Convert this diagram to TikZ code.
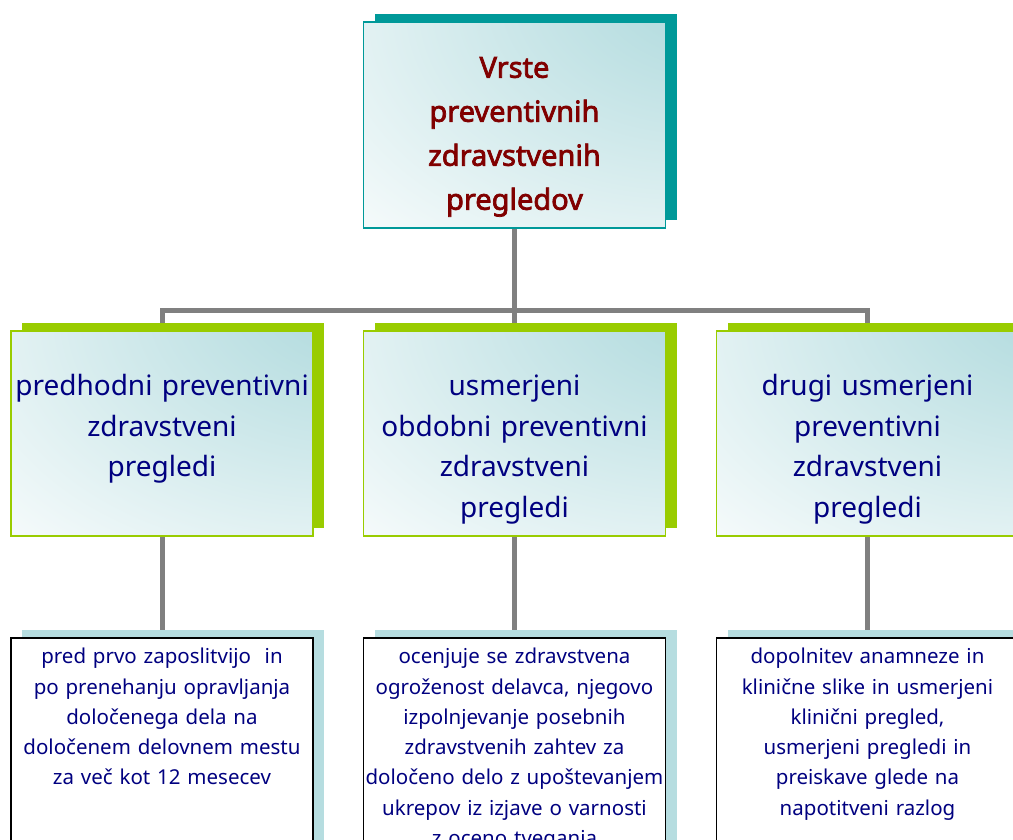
\documentclass[tikz,border=0pt]{standalone}
\usepackage{fontspec}
\setmainfont{Noto Sans}[AutoFakeBold=2.5]
\usetikzlibrary{shadows,backgrounds}

\definecolor{tealshadow}{HTML}{009999}
\definecolor{limegreen}{HTML}{99CC00}
\definecolor{paleteal}{HTML}{B6DDE0}
\definecolor{darkred}{HTML}{800000}
\definecolor{navyblue}{HTML}{000080}
\definecolor{linkgray}{HTML}{808080}

\pgfdeclareradialshading{cornerglow}{\pgfpoint{40bp}{40bp}}%
  {color(0bp)=(paleteal);color(15bp)=(paleteal);color(75bp)=(white);color(150bp)=(white)}

\begin{document}
\begin{tikzpicture}
[x=1pt,y=-1pt,
 box/.style={rectangle,anchor=north,minimum width=302pt,text width=302pt,inner xsep=0pt,align=center},
 headbox/.style={box,draw=tealshadow,line width=1.5pt,shade,shading=cornerglow,
   general shadow={fill=tealshadow,shadow xshift=11pt,shadow yshift=8pt},
   text=darkred,font=\fontsize{29}{44}\selectfont\bfseries,
   inner ysep=34pt,text height=22pt,text depth=116pt},
 groupbox/.style={box,draw=limegreen,line width=1.5pt,shade,shading=cornerglow,
   general shadow={fill=limegreen,shadow xshift=11pt,shadow yshift=8pt},
   text=navyblue,font=\fontsize{28}{40.5}\selectfont,
   inner ysep=45pt,text height=20pt,text depth=95pt},
 notebox/.style={box,draw=black,line width=1.5pt,fill=white,
   general shadow={fill=paleteal,shadow xshift=11pt,shadow yshift=8pt},
   text=navyblue,font=\fontsize{20.5}{30.3}\selectfont,
   inner ysep=11pt,text height=15pt,text depth=185pt},
 link/.style={draw=linkgray,line width=5pt}]

\useasboundingbox (0,0) rectangle (1013,839);
\clip (0,0) rectangle (1013,839);

\node[headbox] (kinds) at (514.5,21) {Vrste\\preventivnih\\zdravstvenih\\pregledov};

\node[groupbox] (prior) at (162,330) {predhodni preventivni\\zdravstveni\\pregledi};
\node[groupbox] (periodic) at (514.5,330) {usmerjeni\\obdobni preventivni\\zdravstveni\\pregledi};
\node[groupbox] (other) at (867.5,330) {drugi usmerjeni\\preventivni\\zdravstveni\\pregledi};

\node[notebox] (priornote) at (162,637) {pred prvo zaposlitvijo\ \ in\\po prenehanju opravljanja\\določenega dela na\\določenem delovnem mestu\\za več kot 12 mesecev};
\node[notebox] (periodicnote) at (514.5,637) {ocenjuje se zdravstvena\\ogroženost delavca, njegovo\\izpolnjevanje posebnih\\zdravstvenih zahtev za\\določeno delo z upoštevanjem\\ukrepov iz izjave o varnosti\\z oceno tveganja};
\node[notebox] (othernote) at (867.5,637) {dopolnitev anamneze in\\klinične slike in usmerjeni\\klinični pregled,\\usmerjeni pregledi in\\preiskave glede na\\napotitveni razlog};

\coordinate (bus) at (514.5,310);

\begin{scope}[on background layer]
\draw[link] (kinds.south) -- (bus); %trunk
\draw[link] (bus) -| (prior.north);
\draw[link] (bus) -- (periodic.north);
\draw[link] (bus) -| (other.north);
\draw[link] (prior.south) -- (priornote.north);
\draw[link] (periodic.south) -- (periodicnote.north);
\draw[link] (other.south) -- (othernote.north);
\end{scope}
\end{tikzpicture}
\end{document}
